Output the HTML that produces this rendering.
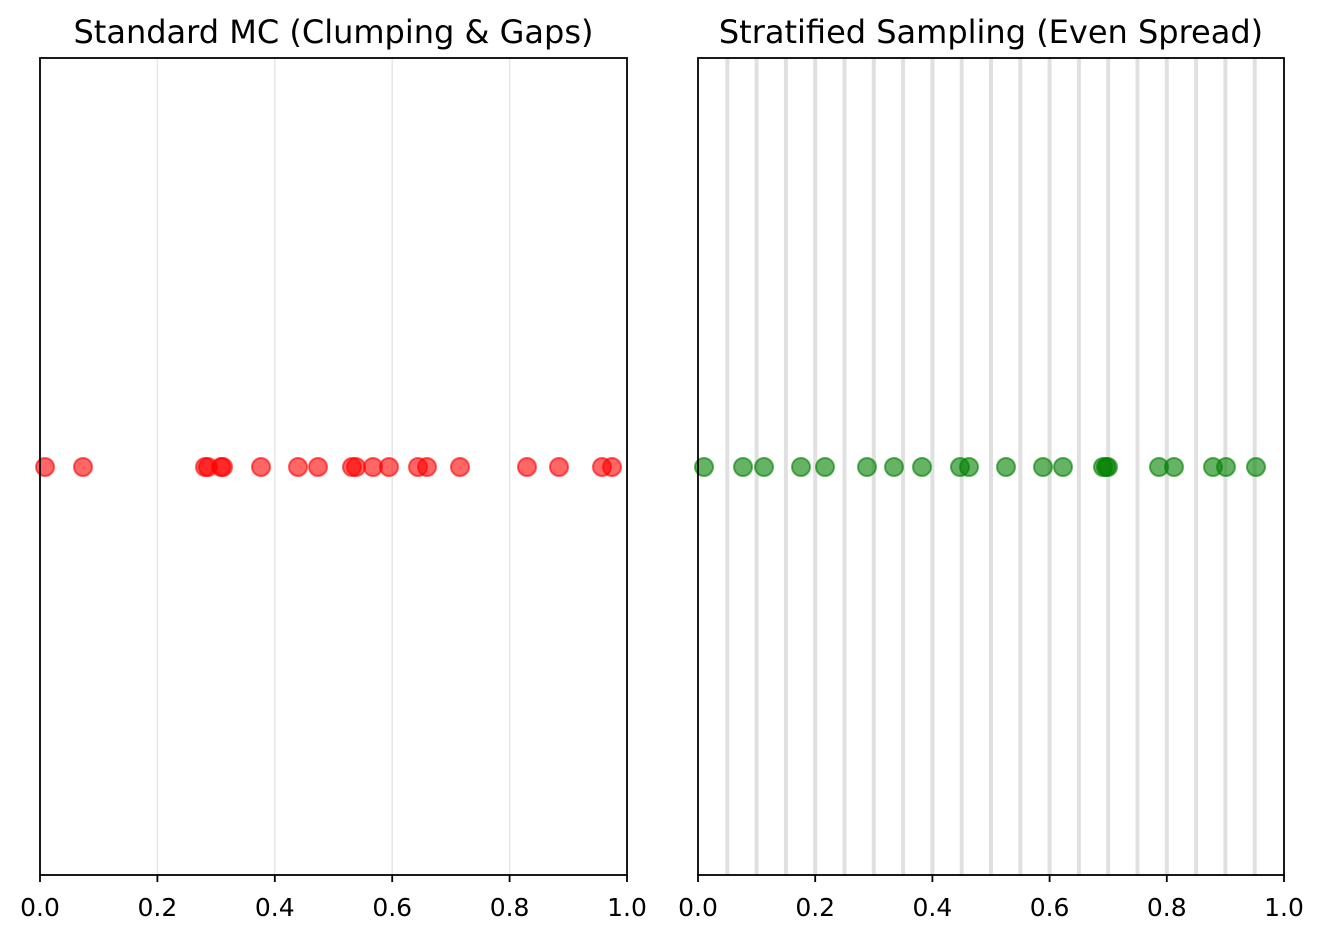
<!DOCTYPE html>
<html><head><style>body{margin:0;background:#fff}svg{display:block}text{font-family:"DejaVu Sans","Liberation Sans",sans-serif}.tl{font-size:25px}.tt{font-size:32px}</style></head>
<body>
<svg width="1324" height="940" xmlns="http://www.w3.org/2000/svg">
<rect width="1324" height="940" fill="#fff"/>
<g stroke="#e6e6e6" stroke-width="1.5">
<line x1="157.4" y1="58" x2="157.4" y2="875"/><line x1="274.8" y1="58" x2="274.8" y2="875"/>
<line x1="392.2" y1="58" x2="392.2" y2="875"/><line x1="509.6" y1="58" x2="509.6" y2="875"/>
</g>
<g stroke="#e0e0e0" stroke-width="4" id="rg"></g>
<g fill="rgba(255,0,0,0.6)" stroke="rgba(255,0,0,0.6)" stroke-width="2" id="red"></g>
<g fill="rgba(0,128,0,0.6)" stroke="rgba(0,128,0,0.6)" stroke-width="2" id="green"></g>
<rect x="40" y="58" width="587" height="817" fill="none" stroke="#000" stroke-width="1.8"/>
<rect x="698" y="58" width="586" height="817" fill="none" stroke="#000" stroke-width="1.8"/>
<g stroke="#000" stroke-width="1.8" id="ticks"></g>
<g text-anchor="middle" id="labels"></g>
<text class="tt" x="333.5" y="43" text-anchor="middle">Standard MC (Clumping &amp; Gaps)</text>
<text class="tt" x="991" y="43" text-anchor="middle">Stratified Sampling (Even Spread)</text>
</svg>
<script>
var NS="http://www.w3.org/2000/svg";
function el(p,t,a,txt){var e=document.createElementNS(NS,t);for(var k in a)e.setAttribute(k,a[k]);if(txt)e.textContent=txt;document.getElementById(p).appendChild(e);}
for(var i=1;i<20;i++){var x=698+586*i/20;el('rg','line',{x1:x,y1:58,x2:x,y2:875});}
[45,83,205,208,221,223,261,298,318,352,356,373,389,418,427,460,527,559,602,612].forEach(function(x){el('red','circle',{cx:x,cy:467,r:9});});
[704,743,764,801,825,867,894,922,960,969,1006,1043,1063,1103,1106,1108,1159,1174,1213,1226,1256].forEach(function(x){el('green','circle',{cx:x,cy:467,r:9});});
[[40,587],[698,586]].forEach(function(a){for(var i=0;i<=5;i++){var x=a[0]+a[1]*i/5;el('ticks','line',{x1:x,y1:875,x2:x,y2:882});el('labels','text',{x:x,y:916,'class':'tl'},(i/5).toFixed(1));}});
</script>
</body></html>
